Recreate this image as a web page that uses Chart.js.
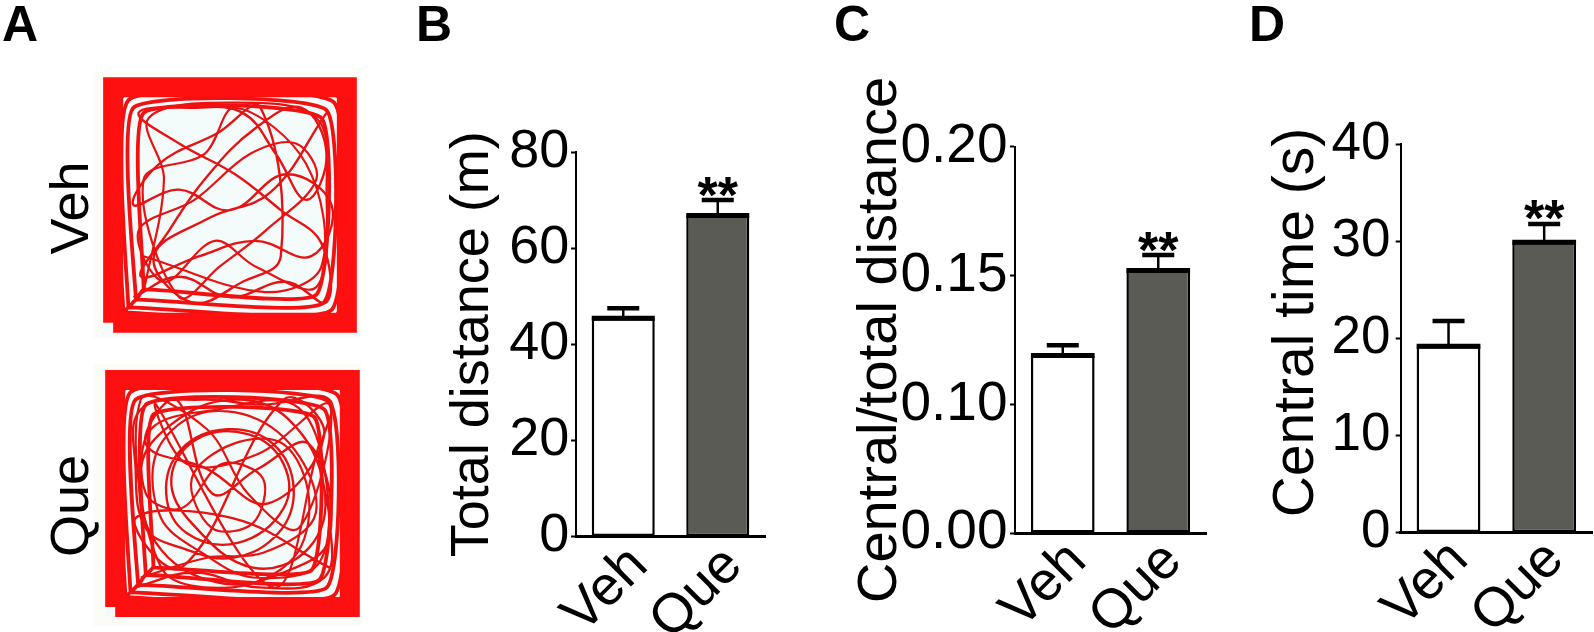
<!DOCTYPE html>
<html><head><meta charset="utf-8">
<script src="https://cdn.jsdelivr.net/npm/chart.js@4.4.1/dist/chart.umd.min.js"></script>
<style>
html,body{margin:0;padding:0;background:#fff;}
body{width:1594px;height:632px;position:relative;overflow:hidden;}
canvas{position:absolute;}
</style></head><body>
<canvas id="txt" width="1594" height="632" style="left:0;top:0"></canvas>
<canvas id="trkVeh" width="254" height="256" style="left:103px;top:77px;background:#f3fbfb"></canvas>
<canvas id="trkQue" width="255" height="247" style="left:105px;top:370px;background:#f3fbfb"></canvas>
<canvas id="cB" width="400" height="632" style="left:400px;top:0"></canvas>
<canvas id="cC" width="410" height="632" style="left:810px;top:0"></canvas>
<canvas id="cD" width="374" height="632" style="left:1220px;top:0"></canvas>
<script>
// ---------- data ----------
const groups = ['Veh', 'Que'];
const distMean = [45.4, 66.8];
const distSem  = [2.1, 3.2];
const ratioMean = [0.119, 0.152];
const ratioSem  = [0.004, 0.006];
const timeMean = [19.2, 29.9];
const timeSem  = [2.6, 1.9];
const sigMarks = ['', '**'];
const distTicks  = [0, 20, 40, 60, 80];
const distLabels = ['0', '20', '40', '60', '80'];
const ratioTicks  = [0.00, 0.10, 0.15, 0.20];
const ratioLabels = ['0.00', '0.10', '0.15', '0.20'];
const timeTicks  = [0, 10, 20, 30, 40];
const timeLabels = ['0', '10', '20', '30', '40'];
const panelLetters = ['A', 'B', 'C', 'D'];
const trackLabels = ['Veh', 'Que'];
// open-field track waypoints (arena units 0-100)
const arenaWall = [[4,4],[96,4],[96,96],[4,96],[4,4]];
const vehEdge = [[8,8],[92,7],[93,92],[8,93],[8,8],[10,10],[90,9],[91,90],[10,91],[10,10],[13,13],[87,12],[88,87],[12,88],[13,13],
  [16,17],[84,15],[86,84],[16,86],[16,17]];
const vehTrack = [[12,14],[30,22],[50,14],[72,20],[88,12],[86,35],[70,48],[52,62],[30,74],[14,86],
  [35,88],[55,86],[68,70],[80,52],[88,70],[78,88],[60,80],[40,60],[26,40],[15,22],[38,30],[60,36],
  [82,30],[90,50],[72,62],[50,48],[30,56],[12,50],[22,66],[45,78],[62,88],[70,30],[55,20],[35,12],
  [20,30],[42,45],[66,55],[88,86]];
const vehTrack2 = [[16,16],[24,60],[18,84],[50,90],[84,84],[88,56],[84,18],[60,26],[44,36],[24,20],
  [14,40],[36,52],[58,70],[76,74],[84,60],[64,40],[46,26],[30,14],[16,60],[40,70],[52,88],[80,66],
  [86,26],[64,16],[16,30]];
const queEdge = [[8,8],[92,7],[93,92],[8,93],[8,8],[10,10],[90,9],[91,90],[10,91],[10,10],[13,13],[87,12],[88,87],[12,88],[13,13],
  [16,17],[84,15],[86,84],[16,86],[16,17],[19,20],[81,19],[82,81],[19,82],[19,20]];
const queTrack = [[12,12],[35,18],[60,12],[86,16],[88,40],[84,65],[88,88],[62,86],[38,88],[14,84],[12,60],[16,36],
  [30,28],[50,24],[68,34],[74,52],[66,70],[48,76],[30,68],[24,50],[32,34],[52,30],[70,44],[70,62],[56,74],
  [36,72],[26,56],[34,38],[58,20],[80,28],[86,52],[72,80],[50,88],[26,78],[14,60],[20,30],[44,14],[70,18],
  [88,32],[80,70],[60,60],[42,50],[28,88],[16,70],[40,60],[64,46],[86,74],[70,88],[30,20],[12,40],[50,40],[88,20]];
const queTrack2 = [[14,16],[40,24],[62,26],[82,40],[78,62],[60,80],[36,82],[20,66],[22,40],[38,26],[58,16],
  [84,22],[86,60],[74,86],[44,84],[18,76],[16,50],[30,44],[46,62],[62,56],[58,38],[42,36],[34,56],[50,70],
  [70,70],[80,48],[74,24],[50,12],[22,20],[14,88],[40,76],[56,50],[76,36],[88,86],[60,66],[32,62],[20,86],
  [66,12],[84,70]];

const FF = '"Liberation Sans", Arial, Helvetica, sans-serif';
Chart.defaults.font.family = FF;
Chart.defaults.color = '#000';

// ---------- static text (panel letters, group labels) ----------
(function(){
  const c = document.getElementById('txt').getContext('2d');
  c.fillStyle = '#fafcf5';
  c.fillRect(93, 72, 268, 266);
  c.fillRect(93, 364, 268, 262);
  c.fillStyle = '#000';
  c.font = 'bold 50px ' + FF;
  c.textBaseline = 'alphabetic';
  const lx = [2, 416, 834, 1249];
  panelLetters.forEach((t, i) => c.fillText(t, lx[i], 41));
  c.font = '54px ' + FF;
  c.textAlign = 'center';
  const ly = [208, 506];
  trackLabels.forEach((t, i) => {
    c.save(); c.translate(88, ly[i]); c.rotate(-Math.PI / 2); c.fillText(t, 0, 0); c.restore();
  });
})();

// ---------- track plots ----------
function pts(a){ return a.map(p => ({x: p[0], y: p[1]})); }
function track(id, edge, path, path2){
  const line = (d, w, col, t) => ({ data: pts(d), showLine: true, borderColor: col, borderWidth: w, pointRadius: 0, tension: t, clip: false });
  const wall = line(arenaWall, 20, '#ff1010', 0); wall.borderJoinStyle = 'miter';
  return new Chart(document.getElementById(id), {
    type: 'scatter',
    data: { datasets: [
      wall,
      line(edge, 3.8, '#f21010', 0.15),
      line(path, 2.4, '#e81212', 0.4),
      line(path2, 2.2, '#e81212', 0.35)
    ]},
    options: {
      responsive: false, animation: false, devicePixelRatio: 1,
      layout: { padding: 0 },
      plugins: { legend: { display: false }, tooltip: { enabled: false } },
      scales: {
        x: { type: 'linear', min: 0, max: 100, display: false },
        y: { type: 'linear', min: 0, max: 100, display: false }
      }
    }
  });
}
track('trkVeh', vehEdge, vehTrack, vehTrack2);
track('trkQue', queEdge, queTrack, queTrack2);

// ---------- bar panels ----------
const errPlugin = {
  id: 'errbars',
  afterDatasetsDraw(chart, args, opts){
    const ctx = chart.ctx, ys = chart.scales.y, meta = chart.getDatasetMeta(0);
    meta.data.forEach((bar, i) => {
      const top = bar.y, cap = ys.getPixelForValue(opts.caps[i]), half = bar.width / 2;
      ctx.save();
      ctx.strokeStyle = '#000'; ctx.lineCap = 'butt';
      ctx.lineWidth = 5; ctx.beginPath(); ctx.moveTo(bar.x - half, top); ctx.lineTo(bar.x + half, top); ctx.stroke();
      ctx.lineWidth = 2.5; ctx.beginPath(); ctx.moveTo(bar.x, top); ctx.lineTo(bar.x, cap); ctx.stroke();
      ctx.lineWidth = 4.5; ctx.beginPath(); ctx.moveTo(bar.x - 16, cap); ctx.lineTo(bar.x + 16, cap); ctx.stroke();
      if (opts.sig[i]) {
        ctx.fillStyle = '#000'; ctx.font = 'bold 52px ' + FF;
        ctx.textAlign = 'center'; ctx.textBaseline = 'alphabetic';
        ctx.fillText(opts.sig[i], bar.x, cap + 12.5);
      }
      ctx.restore();
    });
  }
};

function panel(id, o){
  const caps = o.mean.map((m, i) => o.tf(m + o.sem[i]));
  return new Chart(document.getElementById(id), {
    type: 'bar',
    data: { labels: groups, datasets: [{
      data: o.mean.map(o.tf),
      backgroundColor: ['#ffffff', '#5b5b56'],
      borderColor: '#000', borderWidth: 2.5, borderSkipped: false,
      barPercentage: 0.667, categoryPercentage: 1
    }]},
    options: {
      responsive: false, animation: false, devicePixelRatio: 1,
      layout: { padding: { top: o.top, right: o.right, bottom: 0, left: 0 } },
      plugins: { legend: { display: false }, tooltip: { enabled: false }, errbars: { caps: caps, sig: sigMarks } },
      scales: {
        x: {
          grid: { display: false },
          border: { display: true, color: '#000', width: 3 },
          ticks: { color: '#000', font: { size: o.xfs }, maxRotation: 45, minRotation: 45, autoSkip: false, padding: o.xpad, labelOffset: o.xlo },
          afterFit(s){ s.height = o.xh; }
        },
        y: {
          min: o.min, max: o.max,
          grid: { display: true, drawOnChartArea: false, drawTicks: true, tickLength: 5, tickWidth: 2, tickColor: '#000' },
          border: { display: true, color: '#000', width: 2 },
          ticks: { color: '#000', font: { size: o.yfs }, padding: o.ypad, callback: (v, i) => o.labels[i] },
          afterBuildTicks(s){ s.ticks = o.ticks.map(v => ({ value: o.tf(v) })); },
          title: { display: true, text: o.title, color: '#000', font: { size: o.tfs }, padding: { top: o.tpad, bottom: 0 } },
          afterFit(s){ s.width = o.yw; }
        }
      }
    },
    plugins: [errPlugin]
  });
}
const ident = v => v;
const brokenRatio = v => (v >= 0.10 ? v - 0.05 : v / 2);

panel('cB', { mean: distMean, sem: distSem, tf: ident, min: 0, max: 80, ticks: distTicks, labels: distLabels,
  title: 'Total distance (m)', tfs: 54, tpad: 40.9, yw: 176, top: 152, right: 35, xh: 95.5,
  yfs: 54, ypad: 1.6, xfs: 55, xpad: -11, xlo: 16 });
panel('cC', { mean: ratioMean, sem: ratioSem, tf: brokenRatio, min: 0, max: 0.15, ticks: ratioTicks, labels: ratioLabels,
  title: 'Central/total distance', tfs: 56, tpad: 37, yw: 205, top: 147, right: 14, xh: 99,
  yfs: 55, ypad: 2.5, xfs: 55, xpad: -12, xlo: 15 });
panel('cD', { mean: timeMean, sem: timeSem, tf: ident, min: 0, max: 40, ticks: timeTicks, labels: timeLabels,
  title: '  Central time (s)', tfs: 57, tpad: 42.8, yw: 180.7, top: 144.3, right: 2, xh: 99.5,
  yfs: 53, ypad: 5.3, xfs: 55, xpad: -13, xlo: 11 });
</script>
</body></html>
